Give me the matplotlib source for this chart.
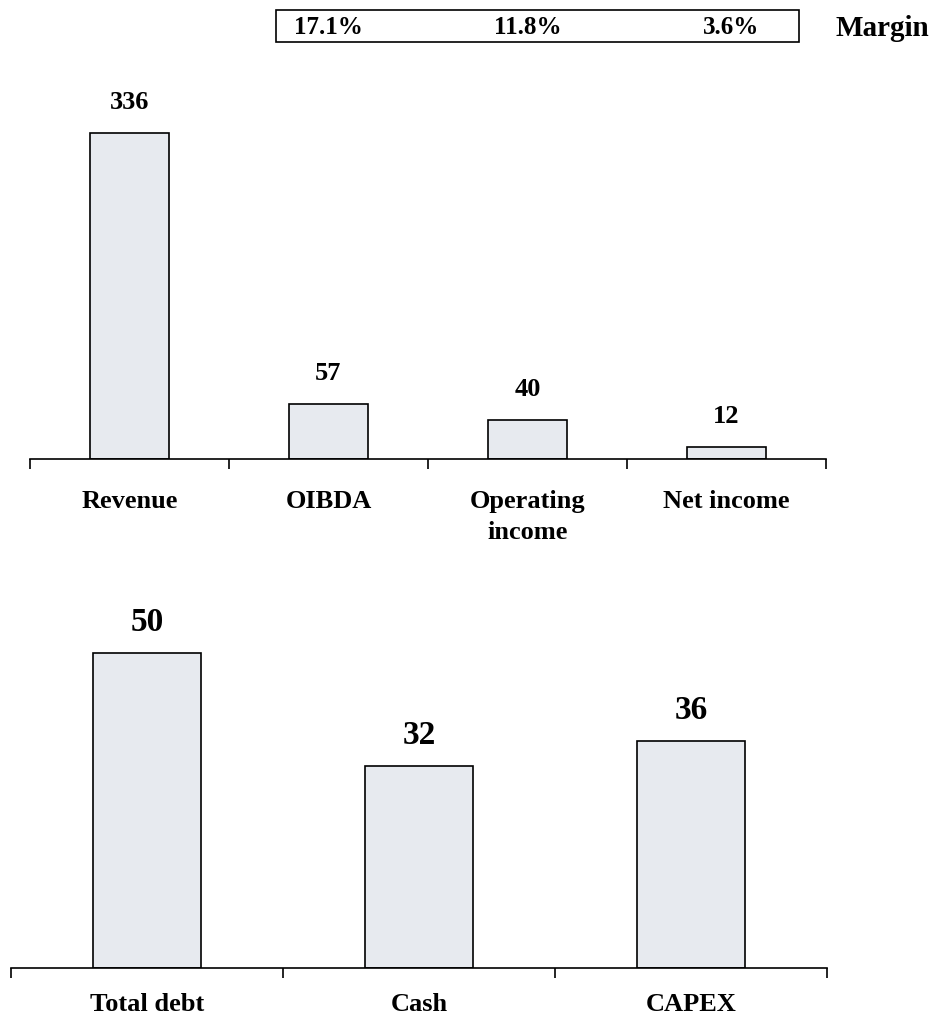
import matplotlib
matplotlib.use('Agg')
import matplotlib.pyplot as plt
from matplotlib.patches import Rectangle

plt.rcParams['font.family'] = ['Liberation Serif', 'DejaVu Serif']
plt.rcParams['font.weight'] = 'bold'

# top panel - P&L
pl_labels = ['Revenue', 'OIBDA', 'Operating\nincome', 'Net income']
pl_values = [336, 57, 40, 12]
margins = ['17.1%', '11.8%', '3.6%']

# bottom panel - balance / capex
bs_labels = ['Total debt', 'Cash', 'CAPEX']
bs_values = [50, 32, 36]

bar_fill = '#e7eaef'
W, H = 942, 1030

fig = plt.figure(figsize=(W / 100, H / 100), dpi=100)


def px_axes(x0, x1, ytop, ybase):
    # pixel box (from top-left) -> figure fraction
    return fig.add_axes([x0 / W, (H - ybase) / H, (x1 - x0) / W, (ybase - ytop) / H])


def style(ax, n, labels, fs, pad):
    for s in ['top', 'right', 'left']:
        ax.spines[s].set_visible(False)
    ax.spines['bottom'].set_linewidth(1.2)
    ax.set_xlim(-0.5, n - 0.5)
    ax.set_xticks([i - 0.5 for i in range(n + 1)])
    ax.set_xticklabels([])
    ax.tick_params(axis='x', which='major', direction='out', length=7.5, width=1.2)
    ax.set_xticks(range(n), minor=True)
    ax.set_xticklabels(labels, minor=True, fontsize=fs, fontweight='bold',
                       linespacing=1.45)
    ax.tick_params(axis='x', which='minor', length=0, pad=pad)
    ax.set_yticks([])


ax1 = px_axes(30, 826, 90, 459)
ax1.bar(range(len(pl_values)), pl_values, width=0.4, color=bar_fill,
        edgecolor='black', linewidth=1.2)
ax1.set_ylim(0, 369 / 0.97)
style(ax1, len(pl_values), pl_labels, 19, 22)
for i, v in enumerate(pl_values):
    ax1.annotate(str(v), (i, v), xytext=(0, 22), textcoords='offset points',
                 ha='center', va='center', fontsize=19, fontweight='bold')

ax2 = px_axes(11, 827, 592, 968)
ax2.bar(range(len(bs_values)), bs_values, width=0.4, color=bar_fill,
        edgecolor='black', linewidth=1.2)
ax2.set_ylim(0, 376 / 6.3)
style(ax2, len(bs_values), bs_labels, 19, 18)
for i, v in enumerate(bs_values):
    ax2.annotate(str(v), (i, v), xytext=(0, 22), textcoords='offset points',
                 ha='center', va='center', fontsize=24, fontweight='bold')

# margin box
fig.patches.append(Rectangle((276 / W, (H - 42) / H), (799 - 276) / W, 32 / H,
                             transform=fig.transFigure, fill=False,
                             edgecolor='black', linewidth=1.2))
for i, m in enumerate(margins):
    ax1.annotate(m, (i + 1, 0), xycoords=('data', 'figure fraction'),
                 xytext=(3 if i == 2 else 0, (H - 28) / H),
                 textcoords=('offset points', 'figure fraction'),
                 ha='center', va='center', fontsize=18, fontweight='bold')
fig.text(836 / W, (H - 28) / H, 'Margin', ha='left', va='center',
         fontsize=21, fontweight='bold')

fig.savefig('out.png', dpi=100)
